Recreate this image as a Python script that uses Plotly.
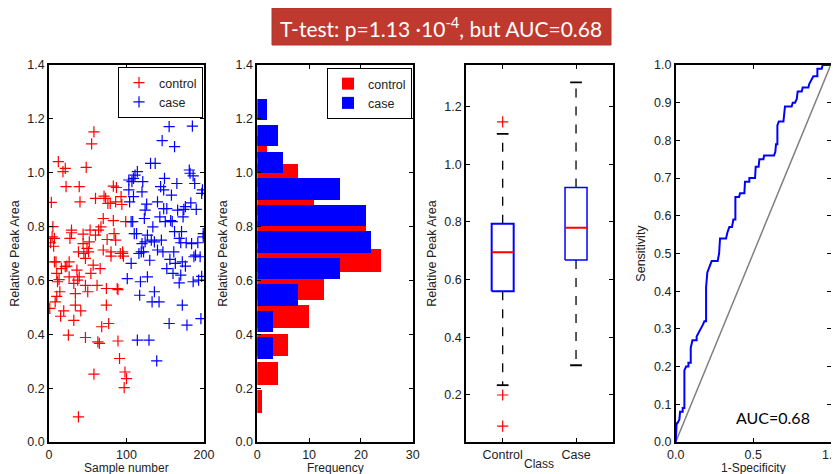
import plotly.graph_objects as go

# ---------------- data ----------------
control_sample = [1, 2, 3, 4, 5, 6, 7, 7, 9, 10, 10, 11, 12, 13, 14, 15, 16, 18, 21, 22, 19, 21, 23, 25, 26,
                  26, 27, 29, 29, 32, 32, 34, 34, 36, 37, 38, 38, 39, 40, 39, 41, 44, 44, 45, 47, 47, 47, 48,
                  49, 50, 51, 52, 53, 54, 55, 57, 58, 58, 60, 60, 62, 63, 64, 65, 66, 67, 68, 70, 70, 71, 73,
                  74, 74, 75, 76, 77, 79, 80, 80, 83, 83, 84, 86, 86, 87, 88, 89, 89, 91, 92, 93, 94, 95, 96,
                  97, 98, 99, 100, 95, 8]
control_value = [0.496, 0.740, 0.890, 0.762, 0.800, 0.727, 0.756, 0.669, 0.669, 0.626, 0.541, 0.595, 1.041,
                 0.603, 0.558, 0.467, 0.644, 1.004, 1.016, 0.948, 0.487, 0.651, 0.653, 0.397, 0.613, 0.669,
                 0.756, 0.787, 0.777, 0.452, 0.589, 0.551, 0.508, 0.638, 0.601, 0.706, 0.093, 0.948, 0.892,
                 0.613, 0.487, 0.772, 0.737, 0.700, 0.582, 0.388, 0.682, 1.020, 0.719, 0.558, 0.706, 0.743,
                 0.787, 0.626, 1.107, 0.657, 1.152, 0.252, 0.905, 0.768, 0.582, 0.372, 0.787, 0.366, 0.644,
                 0.799, 0.428, 0.713, 0.830, 0.913, 0.905, 0.570, 0.508, 0.752, 0.886, 0.440, 0.886, 0.690,
                 0.706, 0.822, 0.950, 0.774, 0.892, 0.750, 0.945, 0.570, 0.566, 0.375, 0.310, 0.700, 0.911,
                 0.882, 0.706, 0.690, 0.202, 0.260, 0.818, 0.235, 0.700, 0.520]
case_sample = [101, 103, 103, 104, 106, 106, 107, 108, 109, 109, 110, 111, 113, 114, 114, 116, 117, 118, 119,
               120, 120, 121, 122, 123, 124, 124, 126, 127, 127, 129, 130, 131, 132, 133, 134, 136, 136, 137,
               137, 139, 140, 140, 142, 143, 144, 145, 146, 147, 148, 148, 149, 150, 152, 152, 155, 155, 156,
               157, 158, 159, 160, 161, 162, 162, 163, 165, 166, 168, 168, 170, 171, 172, 172, 173, 174, 176,
               176, 177, 178, 181, 182, 183, 184, 185, 186, 186, 187, 188, 189, 190, 192, 193, 195, 196, 197,
               198, 199, 199, 170, 197]
case_value = [0.607, 0.973, 0.936, 0.892, 0.818, 0.663, 0.967, 0.818, 0.911, 0.979, 0.774, 0.991, 0.774,
              1.004, 0.378, 0.700, 0.545, 0.595, 0.706, 0.929, 0.737, 0.967, 0.706, 0.830, 0.743, 0.861,
              0.883, 0.613, 0.768, 0.378, 0.675, 1.035, 0.750, 0.520, 0.799, 0.558, 0.743, 1.035, 1.239,
              0.301, 0.892, 0.713, 0.520, 0.836, 0.948, 0.750, 1.119, 0.706, 0.936, 0.867, 0.979, 0.818,
              0.867, 0.644, 1.171, 0.440, 0.678, 0.822, 0.917, 0.818, 0.626, 0.706, 1.097, 0.781, 0.663,
              0.960, 0.861, 0.756, 0.591, 0.740, 0.781, 0.508, 0.669, 0.836, 0.864, 0.874, 0.653, 0.740,
              0.434, 1.010, 0.998, 0.888, 0.737, 1.173, 0.595, 0.988, 0.688, 0.960, 0.694, 0.864, 0.740,
              0.601, 0.688, 0.458, 0.923, 0.936, 0.774, 0.762, 0.620, 0.615]

control_bin_centers = [0.150, 0.255, 0.360, 0.465, 0.570, 0.675, 0.780, 0.885, 0.990, 1.095]
control_counts = [1, 4, 6, 10, 13, 24, 21, 11, 8, 2]
case_bin_centers = [0.349, 0.448, 0.546, 0.645, 0.743, 0.842, 0.940, 1.039, 1.137, 1.236]
case_counts = [3, 3, 8, 16, 22, 21, 16, 5, 4, 2]

box_classes = ["Control", "Case"]
box_q1 = [0.560, 0.668]
box_median = [0.695, 0.780]
box_q3 = [0.794, 0.919]
box_lower_whisker = [0.234, 0.303]
box_upper_whisker = [1.105, 1.284]
outlier_class_index = [1, 1, 1]
outlier_values = [1.147, 0.200, 0.092]

roc_fpr = [0, 0.006, 0.011, 0.024, 0.028, 0.045, 0.045, 0.056, 0.056, 0.067, 0.082, 0.082, 0.097, 0.097,
           0.108, 0.135, 0.135, 0.146, 0.161, 0.174, 0.185, 0.196, 0.196, 0.204, 0.213, 0.222, 0.232, 0.271,
           0.280, 0.286, 0.325, 0.333, 0.346, 0.363, 0.372, 0.385, 0.385, 0.409, 0.415, 0.443, 0.447, 0.475,
           0.475, 0.512, 0.516, 0.535, 0.540, 0.566, 0.570, 0.634, 0.643, 0.647, 0.656, 0.656, 0.665, 0.695,
           0.701, 0.705, 0.748, 0.755, 0.770, 0.781, 0.787, 0.813, 0.819, 0.856, 0.862, 0.873, 0.888, 0.914,
           0.914, 0.942, 0.948, 1.0]
roc_tpr = [0, 0.05, 0.05, 0.06, 0.08, 0.08, 0.09, 0.09, 0.19, 0.20, 0.20, 0.21, 0.21, 0.25,
           0.27, 0.27, 0.28, 0.29, 0.30, 0.31, 0.32, 0.32, 0.41, 0.45, 0.46, 0.47, 0.48, 0.48,
           0.50, 0.54, 0.54, 0.555, 0.57, 0.57, 0.59, 0.59, 0.65, 0.65, 0.66, 0.66, 0.69, 0.69,
           0.70, 0.70, 0.73, 0.73, 0.75, 0.75, 0.76, 0.76, 0.77, 0.79, 0.79, 0.84, 0.85, 0.85,
           0.87, 0.89, 0.89, 0.90, 0.90, 0.91, 0.93, 0.93, 0.94, 0.94, 0.95, 0.96, 0.97, 0.97,
           0.99, 0.99, 1.0, 1.0]

x_titles = ["Sample number", "Frequency", "Class", "1-Specificity"]
y_titles = ["Relative Peak Area", "Relative Peak Area", "Relative Peak Area", "Sensitivity"]
title_text = "T-test: p=1.13 ·10<sup>-4</sup>, but AUC=0.68"
auc_text = "AUC=0.68"

# ---------------- figure ----------------
OFF = 8  # page body margin offset
W, H = 839 - OFF, 474 - OFF
FONT = "Liberation Sans, Arial, Helvetica, sans-serif"
TITLE_FONT = "Lato, Open Sans, sans-serif"
RED = "#ff0000"
BLUE = "#0000ff"

fig = go.Figure()

# Panel 1: scatter
fig.add_trace(go.Scatter(x=control_sample, y=control_value, mode="markers", name="control",
                         marker=dict(symbol="cross-thin", size=8, line=dict(color=RED, width=1.2)),
                         xaxis="x", yaxis="y", legend="legend"))
fig.add_trace(go.Scatter(x=case_sample, y=case_value, mode="markers", name="case",
                         marker=dict(symbol="cross-thin", size=8, line=dict(color=BLUE, width=1.2)),
                         xaxis="x", yaxis="y", legend="legend"))

# Panel 2: histograms
fig.add_trace(go.Bar(y=control_bin_centers, x=control_counts, orientation="h", name="control",
                     width=0.8 * (control_bin_centers[1] - control_bin_centers[0]),
                     marker=dict(color=RED, line=dict(width=0)),
                     xaxis="x2", yaxis="y2", legend="legend2"))
fig.add_trace(go.Bar(y=case_bin_centers, x=case_counts, orientation="h", name="case",
                     width=0.8 * (case_bin_centers[1] - case_bin_centers[0]),
                     marker=dict(color=BLUE, line=dict(width=0)),
                     xaxis="x2", yaxis="y2", legend="legend2"))

# Panel 3: box plots (MATLAB style)
half_box = 0.15
half_cap = 0.08
for i, cls in enumerate(box_classes):
    pos = i + 1
    q1, med, q3 = box_q1[i], box_median[i], box_q3[i]
    lo, hi = box_lower_whisker[i], box_upper_whisker[i]
    fig.add_trace(go.Scatter(x=[pos, pos, None, pos, pos], y=[q3, hi, None, q1, lo], mode="lines",
                             line=dict(color="black", width=1.3, dash="dash"), showlegend=False,
                             xaxis="x3", yaxis="y3", hoverinfo="skip"))
    fig.add_trace(go.Scatter(x=[pos - half_cap, pos + half_cap, None, pos - half_cap, pos + half_cap],
                             y=[hi, hi, None, lo, lo], mode="lines",
                             line=dict(color="black", width=1.8), showlegend=False,
                             xaxis="x3", yaxis="y3", hoverinfo="skip"))
    fig.add_trace(go.Scatter(x=[pos - half_box, pos + half_box, pos + half_box, pos - half_box, pos - half_box],
                             y=[q1, q1, q3, q3, q1], mode="lines",
                             line=dict(color=BLUE, width=2 if i == 0 else 1.5), showlegend=False,
                             xaxis="x3", yaxis="y3"))
    fig.add_trace(go.Scatter(x=[pos - half_box, pos + half_box], y=[med, med], mode="lines",
                             line=dict(color=RED, width=2), showlegend=False,
                             xaxis="x3", yaxis="y3"))
fig.add_trace(go.Scatter(x=outlier_class_index, y=outlier_values, mode="markers",
                         marker=dict(symbol="cross-thin", size=8, line=dict(color=RED, width=1.2)),
                         showlegend=False, xaxis="x3", yaxis="y3"))

# Panel 4: ROC
fig.add_trace(go.Scatter(x=[0, 1], y=[0, 1], mode="lines", line=dict(color="#808080", width=1.5),
                         showlegend=False, xaxis="x4", yaxis="y4"))
fig.add_trace(go.Scatter(x=roc_fpr, y=roc_tpr, mode="lines", line=dict(color=BLUE, width=2),
                         showlegend=False, xaxis="x4", yaxis="y4"))

# ---------------- layout ----------------
def px_x(p):
    return (p - OFF) / W

def px_y(p):
    return 1 - (p - OFF) / H

y_dom = [px_y(442), px_y(65)]
doms = [(49, 204), (257.3, 412.7), (466, 612.7), (675.7, 830.7)]

tickfont = dict(family=FONT, size=12.5, color="#222")
titlefont = dict(family=FONT, size=12.5, color="#222")

def axis(dom, **kw):
    d = dict(domain=dom, showline=True, linecolor="black", linewidth=1.6, mirror="ticks",
             ticks="inside", ticklen=4, tickwidth=1.2, tickcolor="black", showgrid=False,
             zeroline=False, tickfont=tickfont, fixedrange=True, automargin=False,
             ticklabeloverflow="allow")
    d.update(kw)
    return d

layout = dict(
    template="none",
    width=W, height=H, paper_bgcolor="white", plot_bgcolor="white",
    margin=dict(l=0, r=0, t=0, b=0, pad=0), barmode="overlay", bargap=0,
    font=dict(family=FONT, size=12, color="#222"),
    xaxis=axis([px_x(doms[0][0]), px_x(doms[0][1])], anchor="y", range=[0, 200], tickvals=[0, 100, 200]),
    yaxis=axis(y_dom, anchor="x", range=[0, 1.4], tickvals=[0, 0.2, 0.4, 0.6, 0.8, 1.0, 1.2, 1.4],
               tickformat=".1f", title=dict(text=y_titles[0], font=titlefont, standoff=5)),
    xaxis2=axis([px_x(doms[1][0]), px_x(doms[1][1])], anchor="y2", range=[0, 30], tickvals=[0, 10, 20, 30]),
    yaxis2=axis(y_dom, anchor="x2", range=[0, 1.4], tickvals=[0, 0.2, 0.4, 0.6, 0.8, 1.0, 1.2, 1.4],
                tickformat=".1f", title=dict(text=y_titles[1], font=titlefont, standoff=5)),
    xaxis3=axis([px_x(doms[2][0]), px_x(doms[2][1])], anchor="y3", range=[0.5, 2.5],
                tickvals=[1, 2], ticktext=box_classes),
    yaxis3=axis(y_dom, anchor="x3", range=[0.037, 1.344], tickvals=[0.2, 0.4, 0.6, 0.8, 1.0, 1.2],
                tickformat=".1f", title=dict(text=y_titles[2], font=titlefont, standoff=5)),
    xaxis4=axis([px_x(doms[3][0]), px_x(doms[3][1])], anchor="y4", range=[0, 1],
                tickvals=[0, 0.5, 1.0], tickformat=".1f"),
    yaxis4=axis(y_dom, anchor="x4", range=[0, 1], tickvals=[i / 10 for i in range(11)],
                tickformat=".1f", title=dict(text=y_titles[3], font=titlefont, standoff=6)),
    legend=dict(x=px_x(203), xanchor="right", y=px_y(67), yanchor="top", bgcolor="white",
                bordercolor="black", borderwidth=1, font=dict(family=FONT, size=12.5, color="#222"),
                itemwidth=30, tracegroupgap=0),
    legend2=dict(x=px_x(412), xanchor="right", y=px_y(68), yanchor="top", bgcolor="white",
                 bordercolor="black", borderwidth=1, font=dict(family=FONT, size=12.5, color="#222"),
                 itemwidth=30, tracegroupgap=0),
    shapes=[dict(type="rect", xref="paper", yref="paper", x0=px_x(272), x1=px_x(611),
                 y0=px_y(45), y1=px_y(8), fillcolor="#c0392f", line=dict(color="#b03530", width=1),
                 layer="above")],
)

annotations = [
    dict(text=title_text, xref="paper", yref="paper", x=px_x(441), y=px_y(27), showarrow=False,
         font=dict(family=TITLE_FONT, size=21, color="white"), xanchor="center", yanchor="middle"),
    dict(text=auc_text, xref="x4", yref="y4", x=0.63, y=0.064, showarrow=False,
         font=dict(family=TITLE_FONT, size=16, color="black"), xanchor="center", yanchor="middle"),
]
x_title_y = [467.5, 467.5, 463.5, 467.5]
for k in range(4):
    cx = (doms[k][0] + doms[k][1]) / 2
    annotations.append(dict(text=x_titles[k], xref="paper", yref="paper", x=px_x(cx), y=px_y(x_title_y[k]),
                            showarrow=False, font=dict(family=FONT, size=12, color="#222"),
                            xanchor="center", yanchor="middle"))
layout["annotations"] = annotations

fig.update_layout(**layout)
fig.write_html("out.html")
